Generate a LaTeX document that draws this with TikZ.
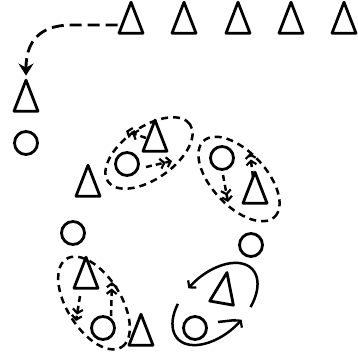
\documentclass[tikz,border=0pt]{standalone}
\usetikzlibrary{arrows.meta,shapes.geometric}
\begin{document}
\begin{tikzpicture}[x=1pt,y=1pt,
  tri/.style={draw, isosceles triangle, isosceles triangle stretches, shape border rotate=90,
    minimum width=24pt, minimum height=31pt, inner sep=0pt, line width=2.8pt, line join=round},
  ply/.style={draw, circle, minimum size=23pt, inner sep=0pt, line width=2.8pt},
  zone/.style={line width=2.5pt, dash pattern=on 7pt off 5pt},
  run/.style={line width=2.5pt, dash pattern=on 6pt off 4pt,
    -{Straight Barb[length=4pt,width=10pt,line width=2.2pt] Straight Barb[length=4pt,width=10pt,line width=2.2pt]}},
  loop/.style={line width=2.5pt, -{Straight Barb[length=4.5pt,width=11pt,line width=2.2pt]}},
  bigrun/.style={line width=2.8pt, dash pattern=on 12pt off 6pt, -{Stealth[length=12pt,width=15pt,inset=4pt]}}
]
\fill[white] (0,0) rectangle (357,358);
\useasboundingbox (0,0) rectangle (357,358);

% top row
\node[tri] (t1) at (131,333) {};
\node[tri] (t2) at (184,333) {};
\node[tri] (t3) at (238,333) {};
\node[tri] (t4) at (291,333) {};
\node[tri] (t5) at (344,333) {};

% left column
\node[tri] (lt) at (26,255) {};
\node[ply] (lc) at (26,215) {};

\draw[bigrun] ([xshift=-3pt]t1.west) -- ++(-46,0) .. controls +(-34,0) and +(0,32) .. ([yshift=1pt]lt.north);

% group 1 (top middle)
\node[ply] (c1) at (127,194) {};
\node[tri] (t6) at (155,215) {};
\draw[zone, rotate around={35:(149,205)}] (149,205) ellipse (50 and 26);
\coordinate (a1s) at (146,220);
\coordinate (a1e) at (126,227);
\coordinate (a2s) at (146,191);
\coordinate (a2e) at (172,197);
\draw[run] (a1s) -- (a1e);
\draw[run] (a2s) -- (a2e);

\node[tri] (t7) at (88,170) {};
\node[ply] (c2) at (73,125) {};

% group 2 (top right)
\node[ply] (c3) at (222,200) {};
\node[tri] (t8) at (255,163) {};
\draw[zone, rotate around={-47:(239,179)}] (239,179) ellipse (52 and 27);
\coordinate (a3s) at (223,183);
\coordinate (a3e) at (228,156);
\coordinate (a4s) at (253,181);
\coordinate (a4e) at (250,205);
\draw[run] (a3s) -- (a3e);
\draw[run] (a4s) -- (a4e);

\node[ply] (c4) at (251,113) {};

% group 3 (bottom left)
\node[tri] (t9) at (86,78) {};
\node[ply] (c5) at (103,30) {};
\draw[zone, rotate around={-58:(94,55)}] (94,55) ellipse (52 and 27);
\coordinate (a5s) at (80,62);
\coordinate (a5e) at (76,37);
\coordinate (a6s) at (111,42);
\coordinate (a6e) at (112,76);
\draw[run] (a5s) -- (a5e);
\draw[run] (a6s) -- (a6e);

\node[tri] (t10) at (141,21) {};

% group 4 (bottom right, solid)
\node[tri, rotate=-10] (t11) at (223,63) {};
\node[ply] (c6) at (195,30) {};
\begin{scope}[rotate around={43:(215,54)}]
  \draw[loop] ([shift={(-62:51 and 30)}]215,54) arc[start angle=-62, end angle=100, x radius=51, y radius=30];
  \draw[loop] ([shift={(122:51 and 30)}]215,54) arc[start angle=122, end angle=280, x radius=51, y radius=30];
\end{scope}
\coordinate (a7s) at (218,36);
\coordinate (a7e) at (236,38);
\draw[line width=2.5pt] (a7s) -- (a7e);
\end{tikzpicture}
\end{document}
